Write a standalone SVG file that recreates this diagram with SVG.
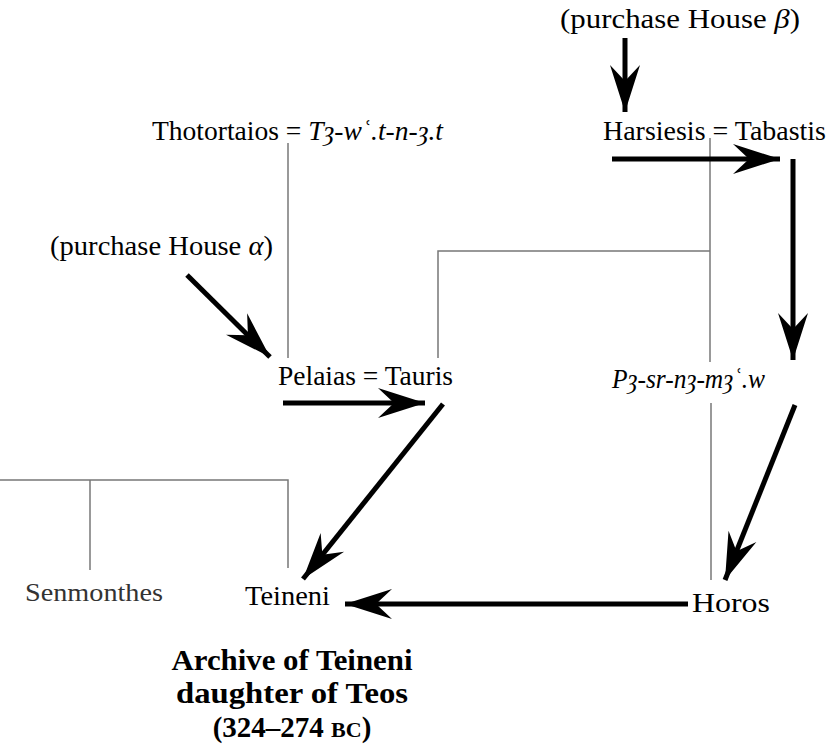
<svg xmlns="http://www.w3.org/2000/svg" width="829" height="748" viewBox="0 0 829 748">
<style>
.lbl{font-family:"Liberation Serif","Times New Roman",serif;font-size:27px;fill:#000}
.it{font-style:italic}
.gray{fill:#333;font-size:25px}
.title{font-family:"Liberation Serif","Times New Roman",serif;font-size:29px;font-weight:bold;fill:#000}
.thin{stroke:#777;stroke-width:1.5;fill:none}
.arr{stroke:#000;stroke-width:5;fill:none;marker-end:url(#ah)}
</style>
<defs>
<marker id="ah" markerUnits="userSpaceOnUse" viewBox="-50 -17 52 34" refX="0" refY="0" markerWidth="52" markerHeight="34" orient="auto">
<path d="M0,0 L-47,-15 L-31,0 L-47,15 Z" fill="#000"/>
</marker>
</defs>
<rect width="829" height="748" fill="#fff"/>
<g id="connectors">
<line class="thin" x1="288" y1="143" x2="288" y2="358"/>
<polyline class="thin" points="438,358 438,251 710,251"/>
<line class="thin" x1="710" y1="138" x2="710" y2="362"/>
<line class="thin" x1="711" y1="403" x2="711" y2="580"/>
<polyline class="thin" points="0,480 288,480 288,568"/>
<line class="thin" x1="90" y1="480" x2="90" y2="570"/>
<line class="arr" x1="625" y1="38" x2="625" y2="112"/>
<line class="arr" x1="612" y1="159" x2="780" y2="159"/>
<line class="arr" x1="793" y1="159" x2="793" y2="360"/>
<line class="arr" x1="795" y1="405" x2="725" y2="580"/>
<line class="arr" x1="688" y1="604" x2="345" y2="604"/>
<line class="arr" x1="187" y1="275" x2="270" y2="357"/>
<line class="arr" x1="283" y1="403" x2="425" y2="403"/>
<line class="arr" x1="443" y1="404" x2="303" y2="579"/>
</g>
<g id="house-beta"><text class="lbl" x="560" y="28" textLength="240" lengthAdjust="spacingAndGlyphs">(purchase House <tspan class="it">β</tspan>)</text></g>
<g id="harsiesis-tabastis"><text class="lbl" x="603" y="140" textLength="223" lengthAdjust="spacingAndGlyphs">Harsiesis = Tabastis</text></g>
<g id="thotortaios"><text class="lbl" x="152" y="140" textLength="291" lengthAdjust="spacingAndGlyphs">Thotortaios = <tspan class="it">Tȝ-wʿ.t-n-ȝ.t</tspan></text></g>
<g id="house-alpha"><text class="lbl" x="50" y="255" textLength="223" lengthAdjust="spacingAndGlyphs">(purchase House <tspan class="it">α</tspan>)</text></g>
<g id="pelaias-tauris"><text class="lbl" x="278" y="385" textLength="175" lengthAdjust="spacingAndGlyphs">Pelaias = Tauris</text></g>
<g id="pasernamaw"><text class="lbl it" x="612" y="388" textLength="153" lengthAdjust="spacingAndGlyphs">Pȝ-sr-nȝ-mȝʿ.w</text></g>
<g id="senmonthes"><text class="lbl gray" x="25" y="601" textLength="138" lengthAdjust="spacingAndGlyphs">Senmonthes</text></g>
<g id="teineni"><text class="lbl" x="245" y="605" textLength="85" lengthAdjust="spacingAndGlyphs">Teineni</text></g>
<g id="horos"><text class="lbl" x="692" y="612" textLength="78" lengthAdjust="spacingAndGlyphs">Horos</text></g>
<g id="title">
<text class="title" x="292" y="670" text-anchor="middle" textLength="241" lengthAdjust="spacingAndGlyphs">Archive of Teineni</text>
<text class="title" x="292" y="703" text-anchor="middle" textLength="232" lengthAdjust="spacingAndGlyphs">daughter of Teos</text>
<text class="title" x="292" y="737" text-anchor="middle">(324–274 <tspan font-size="22">BC</tspan>)</text>
</g>
</svg>
